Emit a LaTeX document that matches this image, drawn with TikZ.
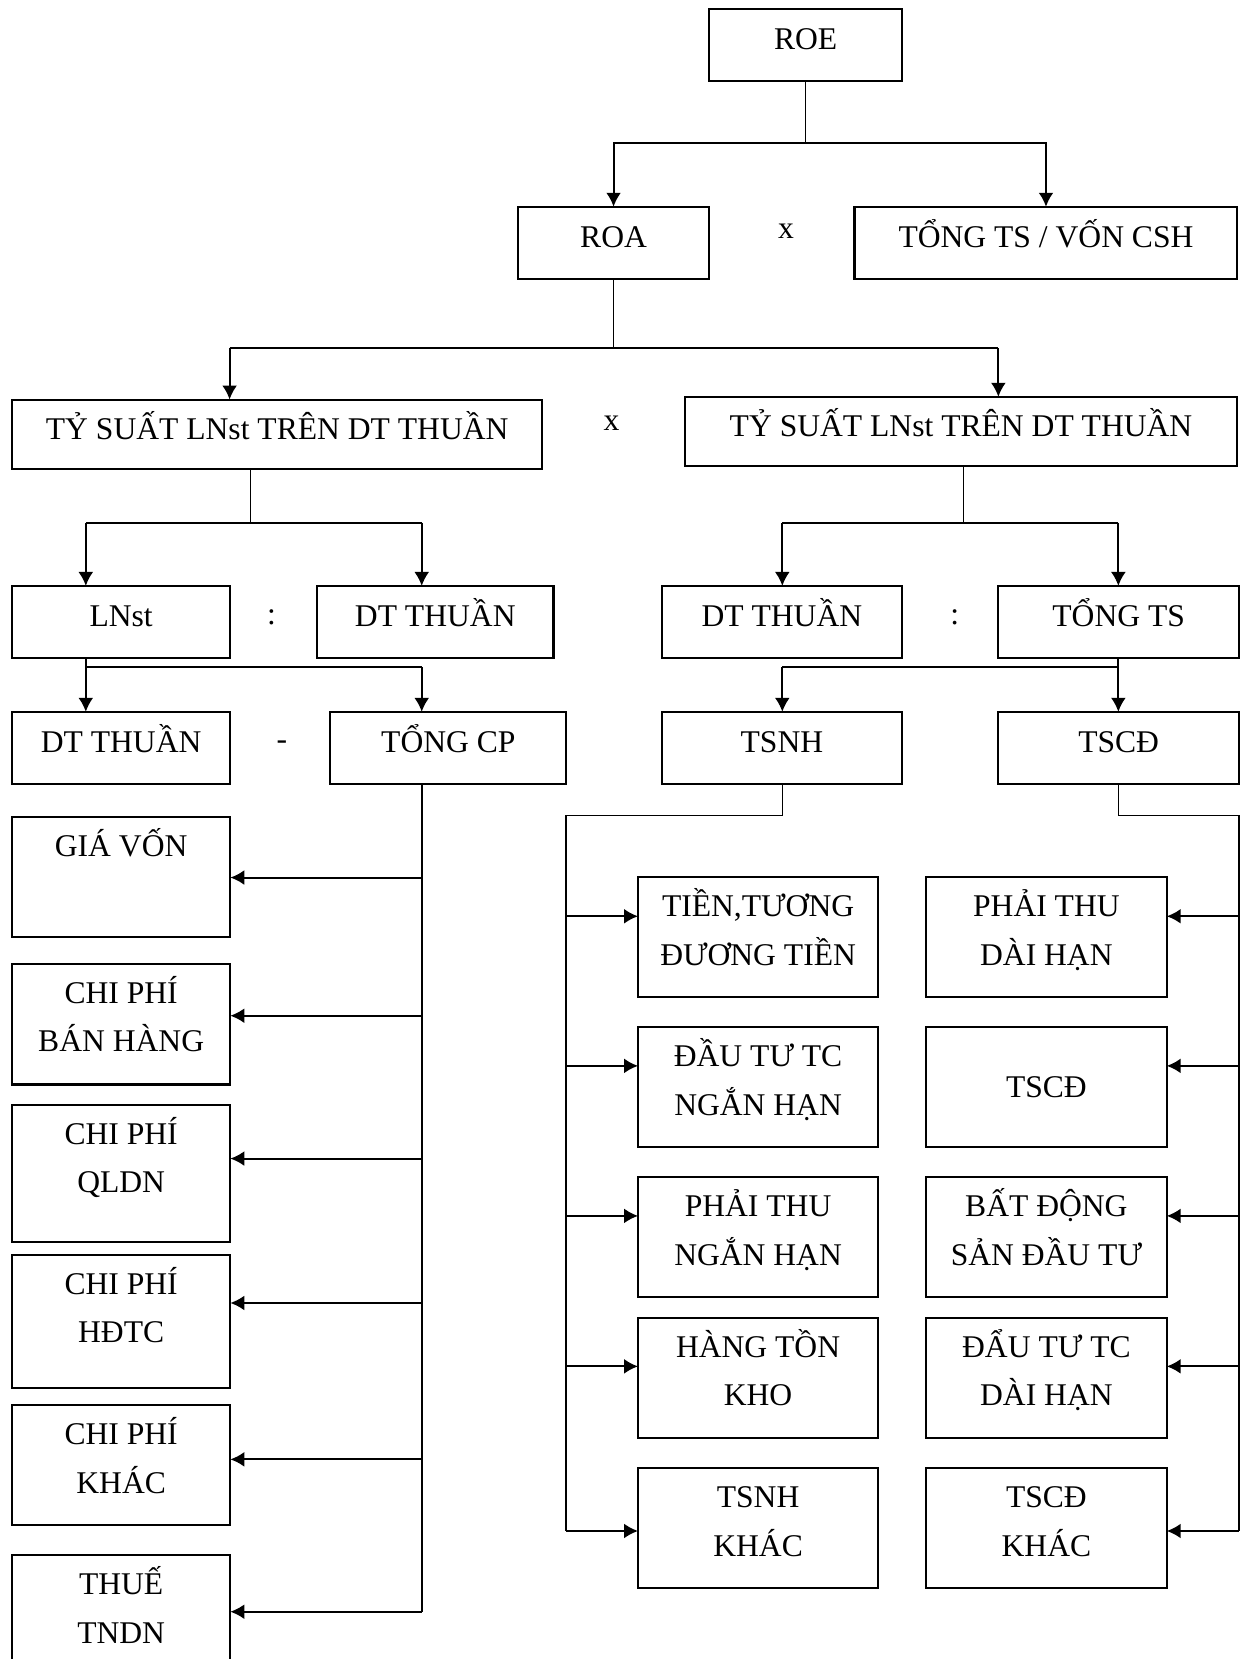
\documentclass[tikz,border=0pt]{standalone}
\usepackage{fontspec}
\setmainfont{Liberation Serif}
\usetikzlibrary{arrows.meta}
\newcommand{\boxtop}{\rule{0pt}{21.3pt}}

\begin{document}
\begin{tikzpicture}[x=0.02cm, y=-0.02cm,
	frame/.style={draw=black, line width=1.1pt, inner sep=0pt, outer sep=0pt, align=center, font=\fontsize{17}{26}\selectfont},
	sbox/.style={frame, minimum height=1.37cm, execute at begin node={\rule{0pt}{17.5pt}}, execute at end node={\rule[-12.5pt]{0pt}{12.5pt}}},
	tbox/.style={frame, execute at end node={\rule[-#1]{0pt}{#1}}},
	sign/.style={inner sep=0pt, font=\fontsize{17}{26}\selectfont},
	trunk/.style={line width=0.75pt},
	link/.style={line width=1pt},
	arr/.style={line width=1.05pt, -{Latex[length=7.5pt,width=8pt]}}]
	\useasboundingbox (0,0) rectangle (1177,1568);
	% top rows
	\draw (761.5,42.5)  node[sbox, minimum width=3.65cm] (roe) {ROE};
	\draw (579.9,229.6) node[sbox, minimum width=3.62cm] (roa) {ROA};
	\draw (988.6,229.6) node[sbox, minimum width=7.24cm] (tongvon) {TỔNG TS / VỐN CSH};
	\draw (743,218.6) node[sign] (x1) {x};
	\draw (262,410.6)   node[sbox, minimum width=10.03cm, minimum height=1.32cm] (tsl) {TỶ SUẤT LNst TRÊN DT THUẦN};
	\draw (908.3,407.8) node[sbox, minimum width=10.45cm, minimum height=1.31cm] (tsr) {TỶ SUẤT LNst TRÊN DT THUẦN};
	\draw (578,400.2) node[sign] (x2) {x};
	\draw (114.5,588)  node[sbox, minimum width=4.13cm] (lnst) {LNst};
	\draw (411.4,588)  node[sbox, minimum width=4.47cm] (dtl) {DT THUẦN};
	\draw (256.7,583.6) node[sign] (chia1) {:};
	\draw (739,588)    node[sbox, minimum width=4.55cm] (dtr) {DT THUẦN};
	\draw (1057.3,588) node[sbox, minimum width=4.55cm] (tongts) {TỔNG TS};
	\draw (902.3,583.6) node[sign] (chia2) {:};
	\draw (114.5,707)  node[sbox, minimum width=4.13cm] (dtt) {DT THUẦN};
	\draw (423.8,707)  node[sbox, minimum width=4.46cm] (tongcp) {TỔNG CP};
	\draw (266.5,704.3) node[sign] (tru) {-};
	\draw (739,707)    node[sbox, minimum width=4.55cm] (tsnh) {TSNH};
	\draw (1057.3,707) node[sbox, minimum width=4.55cm] (tscd) {TSCĐ};
	% chi phi
	\draw (114.5,828.8)  node[tbox=17.3pt, minimum width=4.13cm] (giavon) {\boxtop GIÁ VỐN\\\mbox{}};
	\draw (114.5,968)    node[tbox=17.6pt, minimum width=4.13cm] (cpbh) {\boxtop CHI PHÍ\\BÁN HÀNG};
	\draw (114.5,1109)   node[tbox=26.7pt, minimum width=4.13cm] (qldn) {\boxtop CHI PHÍ\\QLDN};
	\draw (114.5,1248.8) node[tbox=24.1pt, minimum width=4.13cm] (hdtc) {\boxtop CHI PHÍ\\HĐTC};
	\draw (114.5,1384.9) node[tbox=17.4pt, minimum width=4.13cm] (cpkhac) {\boxtop CHI PHÍ\\KHÁC};
	\draw (114.5,1526.3) node[tbox=17pt, minimum width=4.13cm] (thue) {\boxtop THUẾ\\TNDN};
	% tai san ngan han
	\draw (716.5,885.8)  node[tbox=17.3pt, minimum width=4.54cm] (tien) {\boxtop TIỀN,TƯƠNG\\ĐƯƠNG TIỀN};
	\draw (716.5,1027.5) node[tbox=17.1pt, minimum width=4.54cm] (dtnh) {\boxtop ĐẦU TƯ TC\\NGẮN HẠN};
	\draw (716.5,1169.3) node[tbox=17.1pt, minimum width=4.54cm] (ptnh) {\boxtop PHẢI THU\\NGẮN HẠN};
	\draw (716.5,1302.4) node[tbox=17.2pt, minimum width=4.54cm] (htk) {\boxtop HÀNG TỒN\\KHO};
	\draw (716.5,1444.3) node[tbox=17.3pt, minimum width=4.54cm] (tsnhk) {\boxtop TSNH\\KHÁC};
	% tai san co dinh
	\draw (989,885.8)  node[tbox=17.3pt, minimum width=4.55cm] (ptdh) {\boxtop PHẢI THU\\DÀI HẠN};
	\draw (989,1027.5) node[frame, minimum width=4.55cm, minimum height=2.27cm] (tscd2) {TSCĐ};
	\draw (989,1169.3) node[tbox=17.1pt, minimum width=4.55cm] (bds) {\boxtop BẤT ĐỘNG\\SẢN ĐẦU TƯ};
	\draw (989,1302.4) node[tbox=17.2pt, minimum width=4.55cm] (dtdh) {\boxtop ĐẨU TƯ TC\\DÀI HẠN};
	\draw (989,1444.3) node[tbox=17.3pt, minimum width=4.55cm] (tscdk) {\boxtop TSCĐ\\KHÁC};
	% bus points
	\coordinate (b1) at (761.5,135.5);
	\coordinate (q1) at (217,329.3);
	\coordinate (q2) at (943.6,329.3);
	\coordinate (a1) at (236.5,494);
	\coordinate (a2) at (81.1,494);
	\coordinate (a3) at (398.6,494);
	\coordinate (a4) at (910.6,494);
	\coordinate (a5) at (739.4,494);
	\coordinate (a6) at (1057,494);
	\coordinate (c1) at (81.1,630.2);
	\coordinate (c2) at (398.6,630.2);
	\coordinate (c3) at (739.4,630.2);
	\coordinate (c4) at (1057,630.2);
	\coordinate (m0) at (534.8,770.5);
	\coordinate (n0) at (1170.9,770.5);
	% ROE
	\draw[trunk] (roe.south) -- (b1);
	\draw[arr] (b1) -| (roa.north);
	\draw[arr] (b1) -| (tongvon.north);
	% ROA
	\draw[trunk] (roa.south) -- (roa.south |- q1);
	\draw[link] (q1) -- (q2);
	\draw[arr] (q1) -- (q1 |- tsl.north);
	\draw[arr] (q2) -- (q2 |- tsr.north);
	% ty suat
	\draw[trunk] (a1 |- tsl.south) -- (a1);
	\draw[link] (a2) -- (a3);
	\draw[arr] (a2) -- (a2 |- lnst.north);
	\draw[arr] (a3) -- (a3 |- dtl.north);
	\draw[trunk] (a4 |- tsr.south) -- (a4);
	\draw[link] (a5) -- (a6);
	\draw[arr] (a5) -- (a5 |- dtr.north);
	\draw[arr] (a6) -- (a6 |- tongts.north);
	% LNst, TONG TS
	\draw[link] (c1 |- lnst.south) -- (c1);
	\draw[link] (c1) -- (c2);
	\draw[arr] (c1) -- (c1 |- dtt.north);
	\draw[arr] (c2) -- (c2 |- tongcp.north);
	\draw[link] (c4 |- tongts.south) -- (c4);
	\draw[link] (c4) -- (c3);
	\draw[arr] (c3) -- (c3 |- tsnh.north);
	\draw[arr] (c4) -- (c4 |- tscd.north);
	% TONG CP
	\coordinate (l1) at (398.6,829.4);
	\coordinate (l2) at (398.6,960);
	\coordinate (l3) at (398.6,1095);
	\coordinate (l4) at (398.6,1231.5);
	\coordinate (l5) at (398.6,1379.3);
	\coordinate (l6) at (398.6,1523.3);
	\draw[link] (l6 |- tongcp.south) -- (l6);
	\draw[arr] (l1) -- (l1 -| giavon.east);
	\draw[arr] (l2) -- (l2 -| cpbh.east);
	\draw[arr] (l3) -- (l3 -| qldn.east);
	\draw[arr] (l4) -- (l4 -| hdtc.east);
	\draw[arr] (l5) -- (l5 -| cpkhac.east);
	\draw[arr] (l6) -- (l6 -| thue.east);
	% TSNH
	\coordinate (m1) at (534.8,866);
	\coordinate (m2) at (534.8,1007.4);
	\coordinate (m3) at (534.8,1149.2);
	\coordinate (m4) at (534.8,1291.4);
	\coordinate (m5) at (534.8,1447);
	\draw[trunk] (c3 |- tsnh.south) |- (m0);
	\draw[link] (m0) -- (m5);
	\draw[arr] (m1) -- (m1 -| tien.west);
	\draw[arr] (m2) -- (m2 -| dtnh.west);
	\draw[arr] (m3) -- (m3 -| ptnh.west);
	\draw[arr] (m4) -- (m4 -| htk.west);
	\draw[arr] (m5) -- (m5 -| tsnhk.west);
	% TSCD
	\coordinate (n1) at (1170.9,866);
	\coordinate (n2) at (1170.9,1007.4);
	\coordinate (n3) at (1170.9,1149.2);
	\coordinate (n4) at (1170.9,1291.4);
	\coordinate (n5) at (1170.9,1447);
	\draw[trunk] (c4 |- tscd.south) |- (n0);
	\draw[link] (n0) -- (n5);
	\draw[arr] (n1) -- (n1 -| ptdh.east);
	\draw[arr] (n2) -- (n2 -| tscd2.east);
	\draw[arr] (n3) -- (n3 -| bds.east);
	\draw[arr] (n4) -- (n4 -| dtdh.east);
	\draw[arr] (n5) -- (n5 -| tscdk.east);
\end{tikzpicture}
\end{document}
